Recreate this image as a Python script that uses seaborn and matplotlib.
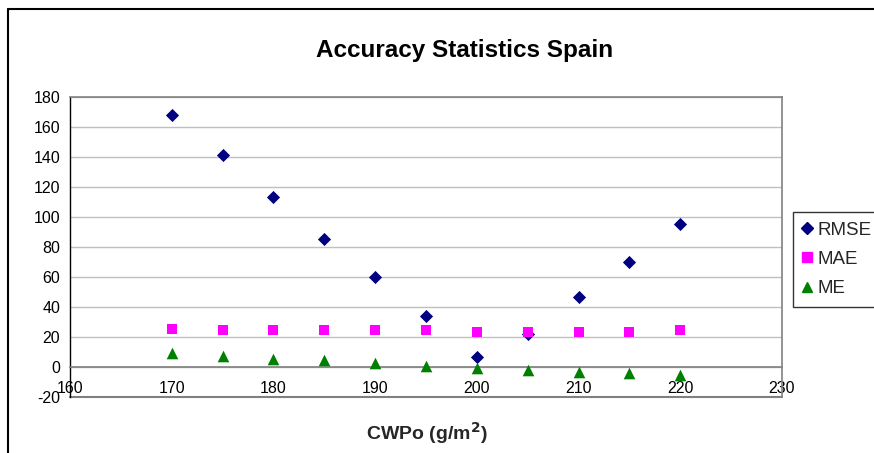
import numpy as np
import pandas as pd
import matplotlib
matplotlib.use("Agg")
import matplotlib.pyplot as plt
import seaborn as sns
from matplotlib.lines import Line2D

# -------------------------
# Data
# -------------------------
cwpo = [170, 175, 180, 185, 190, 195, 200, 205, 210, 215, 220]
rmse = [168, 141, 113, 85, 60, 34, 7, 22, 47, 70, 95]
mae = [25.5, 24.5, 24.5, 24.5, 24.5, 24.5, 23.5, 23.5, 23.5, 23.5, 24.5]
me = [9.5, 7.5, 5.5, 4.5, 2.5, 1, -0.5, -2, -3.5, -4, -5]

series_names = ["RMSE", "MAE", "ME"]
series_colors = {"RMSE": "#000080", "MAE": "#FF00FF", "ME": "#008000"}
series_markers = {"RMSE": "D", "MAE": "s", "ME": "^"}
series_sizes = {"RMSE": 45, "MAE": 55, "ME": 70}

df = pd.concat([
    pd.DataFrame({"CWPo": cwpo, "value": vals, "stat": name})
    for name, vals in zip(series_names, [rmse, mae, me])
], ignore_index=True)

# -------------------------
# Plot
# -------------------------
sns.set_style("white")
plt.rcParams["font.family"] = ["Liberation Sans", "DejaVu Sans"]
plt.rcParams["axes.unicode_minus"] = False

fig = plt.figure(figsize=(8.74, 4.53), dpi=100)
ax = fig.add_axes([0.0801, 0.1236, 0.8146, 0.6623])

for name in series_names:
    sns.scatterplot(
        data=df[df["stat"] == name], x="CWPo", y="value",
        color=series_colors[name], marker=series_markers[name],
        s=series_sizes[name], linewidth=0, ax=ax, legend=False, zorder=3,
    )

ax.set_xlim(160, 230)
ax.set_ylim(-20, 180)
ax.set_xticks(np.arange(160, 231, 10))
ax.set_yticks(np.arange(-20, 181, 20))
ax.tick_params(labelsize=11.5, colors="black", length=4, width=0.8, direction="out")
ax.tick_params(axis="x", pad=6)
ax.tick_params(axis="y", pad=3)

# gridlines
ax.yaxis.grid(True, color="#c0c0c0", linewidth=1)
ax.set_axisbelow(True)

# Excel-like axes: x axis crosses at y=0
ax.spines["bottom"].set_position(("data", 0))
ax.spines["bottom"].set_color("#808080")
ax.spines["bottom"].set_linewidth(1.2)
ax.spines["left"].set_color("black")
ax.spines["left"].set_linewidth(1.0)
for side in ["top", "right"]:
    ax.spines[side].set_visible(True)
    ax.spines[side].set_color("#808080")
    ax.spines[side].set_linewidth(1.2)
ax.axhline(-20, color="#808080", linewidth=1.5, clip_on=False, zorder=2)

ax.set_xlabel("")
ax.set_ylabel("")
fig.text(0.531, 0.889, "Accuracy Statistics Spain", ha="center", va="center",
         fontsize=17.5, fontweight="bold", color="black")
fig.text(0.488, 0.044, "CWPo (g/m$^{\\mathbf{2}}$)", ha="center", va="center",
         fontsize=14, fontweight="bold")

# legend
handles = [
    Line2D([], [], linestyle="none", marker=series_markers[n], color=series_colors[n],
           markersize=6 if n == "RMSE" else 7)
    for n in series_names
]
leg = fig.legend(handles, series_names, loc="upper left",
                 bbox_to_anchor=(0.9073, 0.532), frameon=True, fancybox=False,
                 fontsize=13.5, handlelength=0.5, handletextpad=0.3,
                 labelspacing=0.65, borderpad=0.5, borderaxespad=0)
leg.get_frame().set_edgecolor("black")
leg.get_frame().set_linewidth(1)

# chart area border (top and left visible)
fig.add_artist(Line2D([0.00915, 0.00915], [0, 0.980], color="black", linewidth=1.5,
                      transform=fig.transFigure))
fig.add_artist(Line2D([0.00915, 1.0], [0.980, 0.980], color="black", linewidth=1.5,
                      transform=fig.transFigure))

fig.savefig("out.png", dpi=100)
plt.close(fig)
